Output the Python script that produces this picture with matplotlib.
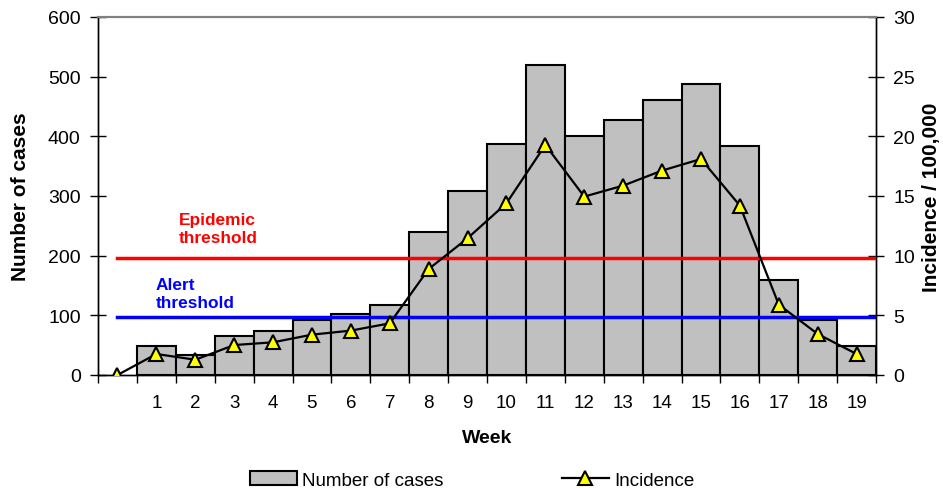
import matplotlib
matplotlib.use("Agg")
import matplotlib.pyplot as plt
import numpy as np

plt.rcParams["font.family"] = ["Liberation Sans", "DejaVu Sans"]

# ── data ──────────────────────────────────────────────────────────
weeks = list(range(1, 20))
cases = [49, 33, 66, 74, 93, 102, 117, 239, 308, 387, 520, 401, 427, 461, 487, 384, 160, 93, 49]
inc_weeks = list(range(0, 20))
incidence = [0.0, 1.76, 1.28, 2.51, 2.74, 3.38, 3.72, 4.33, 8.88, 11.46, 14.39,
             19.28, 14.95, 15.87, 17.13, 18.1, 14.2, 5.9, 3.44, 1.76]
epidemic_thr = 9.8
alert_thr = 4.88

# ── plot ──────────────────────────────────────────────────────────
fig = plt.figure(figsize=(9.43, 4.89), dpi=100)
ax = fig.add_axes([98/943, 1 - 376/489, (876-98)/943, (376-18)/489])
ax2 = ax.twinx()

bars = ax.bar(weeks, cases, width=1.0, color="#c0c0c0", edgecolor="black", linewidth=1.5,
              label="Number of cases", zorder=2)
ax.set_xlim(-0.5, 19.5)
ax.set_ylim(0, 600)
ax.set_yticks(range(0, 601, 100))

ax2.set_ylim(0, 30)
ax2.set_yticks(range(0, 31, 5))
ax2.plot([0, 19.5], [epidemic_thr] * 2, color="#ff0000", lw=2.5, zorder=3)
ax2.plot([0, 19.5], [alert_thr] * 2, color="#0000ff", lw=2.5, zorder=3)
line, = ax2.plot(inc_weeks, incidence, color="black", lw=1.6, marker="^", ms=9.5,
                 mfc="#ffff00", mec="black", mew=1.5, label="Incidence", zorder=4)

ax2.text(2.58, 12.3, "Epidemic\nthreshold", color="#ff0000", fontsize=12.4, fontweight="bold",
         ha="center", va="center", linespacing=1.25)
ax2.text(0.98, 6.8, "Alert\nthreshold", color="#0000ff", fontsize=12.4, fontweight="bold",
         ha="left", va="center", linespacing=1.25)

# x ticks at slot edges, labels at centres
ax.set_xticks(np.arange(-0.5, 19.6, 1.0))
ax.set_xticklabels([])
ax.set_xticks(weeks, minor=True)
ax.set_xticklabels([str(w) for w in weeks], minor=True, fontsize=13.5)
ax.tick_params(axis="x", which="major", direction="out", length=6, width=1)
ax.tick_params(axis="x", which="minor", length=0, pad=14)
ax.tick_params(axis="y", direction="inout", length=11, width=1, labelsize=14, pad=7)
ax2.tick_params(axis="y", direction="inout", length=11, width=1, labelsize=14, pad=7)

for a in (ax, ax2):
    a.spines["top"].set_color("#808080")
    a.spines["top"].set_linewidth(1.5)
    for s in ("left", "right", "bottom"):
        a.spines[s].set_linewidth(1)

ax.set_xlabel("Week", fontsize=14, fontweight="bold", labelpad=13)
ax.set_ylabel("Number of cases", fontsize=15, fontweight="bold", labelpad=13)
ax2.set_ylabel("Incidence / 100,000", fontsize=15, fontweight="bold", labelpad=5)

fig.legend([bars, line], ["Number of cases", "Incidence"], loc="center",
           bbox_to_anchor=(472/943, 1 - 481/489), ncol=2, frameon=False,
           fontsize=13.5, columnspacing=6.3, handlelength=2.5, handletextpad=0.3)

fig.savefig("out.png", dpi=100)
